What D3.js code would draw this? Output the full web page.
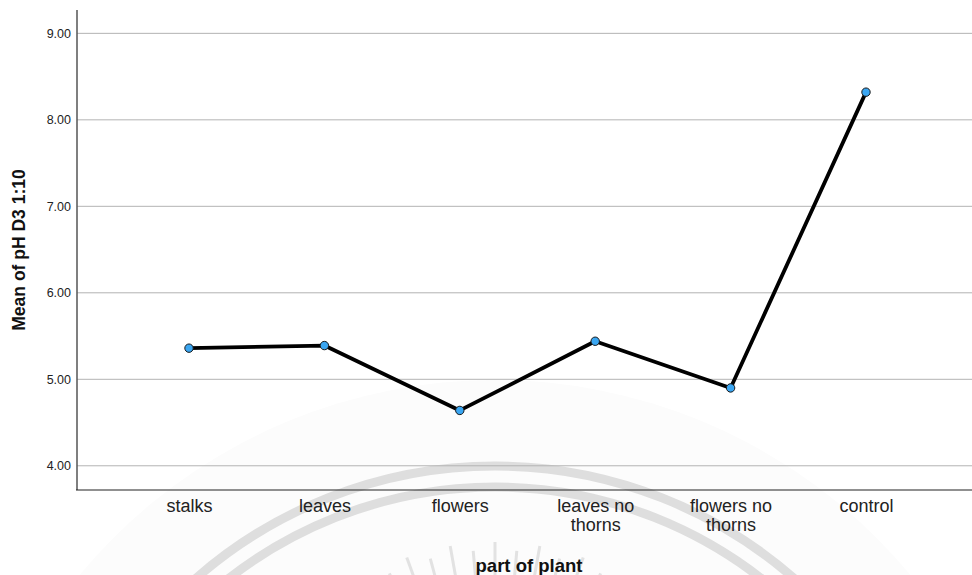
<!DOCTYPE html>
<html><head><meta charset="utf-8">
<script src="https://cdn.jsdelivr.net/npm/d3@7"></script>
<style>body{margin:0;background:#fff}svg{display:block;font-family:"Liberation Sans",Arial,sans-serif}</style>
</head><body><svg id="c" width="972" height="575"></svg>
<script>
const categories = ["stalks","leaves","flowers","leaves no thorns","flowers no thorns","control"];
const meanPH = [5.36, 5.39, 4.64, 5.44, 4.90, 8.32];
const yTicks = [4, 5, 6, 7, 8, 9];
const xTitle = "part of plant";
const yTitle = "Mean of pH D3 1:10";

(function () {
const svg = d3.select("#c");
const pLeft = 77, pRight = 972, pTop = 10, pBottom = 490;

// faint watermark (background)
const wm = svg.append("g");
const cx = 495, cy = 920;
wm.append("circle").attr("cx", cx).attr("cy", cy).attr("r", 540).attr("fill", "#fcfcfc");
wm.append("circle").attr("cx", cx).attr("cy", cy).attr("r", 454).attr("fill", "none").attr("stroke", "#dedede").attr("stroke-width", 9);
wm.append("circle").attr("cx", cx).attr("cy", cy).attr("r", 433).attr("fill", "none").attr("stroke", "#dedede").attr("stroke-width", 9);
const rc = [495, 800];
for (let a = -30; a <= 30; a += 5) {
  const t = (a - 90) * Math.PI / 180;
  const r0 = 200, r1 = 258 - (Math.abs(a) % 10 === 0 ? 0 : 8);
  wm.append("line")
    .attr("x1", rc[0] + r0 * Math.cos(t)).attr("y1", rc[1] + r0 * Math.sin(t))
    .attr("x2", rc[0] + r1 * Math.cos(t)).attr("y2", rc[1] + r1 * Math.sin(t))
    .attr("stroke", "#e2e2e2").attr("stroke-width", 3);
}

const x = d3.scalePoint().domain(categories).range([189, 866]);
const y = d3.scaleLinear().domain([3.72, 9.27]).range([pBottom, pTop]);

// gridlines
svg.append("g").selectAll("line").data(yTicks).join("line")
  .attr("x1", pLeft).attr("x2", pRight)
  .attr("y1", d => y(d)).attr("y2", d => y(d))
  .attr("stroke", "#b3b3b3").attr("stroke-width", 1);

// y axis
const ya = svg.append("g").attr("transform", `translate(${pLeft},0)`)
  .call(d3.axisLeft(y).tickValues(yTicks).tickFormat(d3.format(".2f")).tickSize(0).tickPadding(6));
ya.select(".domain").remove();
ya.selectAll("text").attr("font-size", 12.5).attr("fill", "#222").attr("font-family", "Liberation Sans, Arial, sans-serif");
svg.append("line").attr("x1", pLeft).attr("x2", pLeft).attr("y1", pTop).attr("y2", pBottom)
  .attr("stroke", "#555").attr("stroke-width", 1.5);

// x axis
const xa = svg.append("g").attr("transform", `translate(0,${pBottom})`)
  .call(d3.axisBottom(x).tickSize(0).tickPadding(9));
xa.select(".domain").remove();
xa.selectAll("text").attr("font-size", 18).attr("fill", "#222").attr("font-family", "Liberation Sans, Arial, sans-serif")
  .each(function(d) {
    const t = d3.select(this);
    const words = d.split(" ");
    if (words.length > 2) {
      t.text(null);
      t.append("tspan").attr("x", 0).attr("dy", "0.71em").text(words.slice(0, 2).join(" "));
      t.append("tspan").attr("x", 0).attr("dy", "1.05em").text(words.slice(2).join(" "));
      t.attr("dy", null);
    }
  });
svg.append("line").attr("x1", pLeft - 1).attr("x2", pRight).attr("y1", pBottom).attr("y2", pBottom)
  .attr("stroke", "#222").attr("stroke-width", 1.2);

// line
const data = categories.map((c, i) => ({c, v: meanPH[i]}));
svg.append("path").datum(data)
  .attr("d", d3.line().x(d => x(d.c)).y(d => y(d.v)))
  .attr("fill", "none").attr("stroke", "#000").attr("stroke-width", 3.8).attr("stroke-linejoin", "round");
svg.append("g").selectAll("circle").data(data).join("circle")
  .attr("cx", d => x(d.c)).attr("cy", d => y(d.v)).attr("r", 4.2)
  .attr("fill", "#3aa6f2").attr("stroke", "#1a1a1a").attr("stroke-width", 1);

// titles
svg.append("text").attr("x", 529).attr("y", 572).attr("text-anchor", "middle")
  .attr("font-size", 18.5).attr("font-weight", "bold").attr("fill", "#111").text(xTitle);
svg.append("text").attr("transform", "translate(25,250) rotate(-90)").attr("text-anchor", "middle")
  .attr("font-size", 17.5).attr("font-weight", "bold").attr("fill", "#111").text(yTitle);
})();
</script></body></html>
